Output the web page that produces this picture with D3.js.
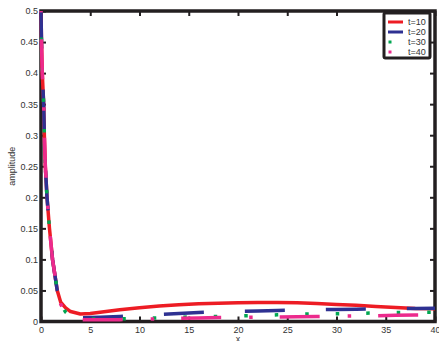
<!DOCTYPE html>
<html>
<head>
<meta charset="utf-8">
<script src="https://cdn.jsdelivr.net/npm/d3@7"></script>
<style>
  body { margin: 0; background: #fff; }
  svg { display: block; font-family: "Liberation Sans", Arial, sans-serif; }
</style>
</head>
<body>
<div class="chart"></div>
<script>
// sample positions along x
const xs = [0, 0.05, 0.13, 0.27, 0.34, 0.44, 0.61, 0.86, 1.17, 1.65, 2.0, 2.5, 3, 4, 5, 6, 8, 10, 12, 14, 16, 18, 20, 22, 24, 26, 28, 30, 32, 34, 36, 38, 40];

// amplitude for each t
const t10 = [0.5, 0.45, 0.40, 0.35, 0.30, 0.25, 0.20, 0.15, 0.10, 0.05, 0.031, 0.022, 0.016, 0.012, 0.013, 0.015, 0.019, 0.022, 0.025, 0.027, 0.0285, 0.0295, 0.030, 0.0305, 0.0305, 0.030, 0.029, 0.0275, 0.026, 0.024, 0.0225, 0.021, 0.0205];
const t20 = [0.5, 0.45, 0.40, 0.35, 0.30, 0.25, 0.20, 0.15, 0.10, 0.05, 0.032, 0.018, 0.010, 0.006, 0.0063, 0.0068, 0.0082, 0.0098, 0.0115, 0.013, 0.0145, 0.0155, 0.0163, 0.017, 0.0178, 0.0184, 0.019, 0.0195, 0.0199, 0.0203, 0.0207, 0.021, 0.0213];
const t30 = [0.5, 0.45, 0.40, 0.35, 0.30, 0.25, 0.20, 0.15, 0.10, 0.05, 0.028, 0.015, 0.009, 0.005, 0.004, 0.004, 0.0043, 0.005, 0.0058, 0.0068, 0.0075, 0.0082, 0.009, 0.0098, 0.0108, 0.0118, 0.0123, 0.0126, 0.013, 0.0138, 0.0145, 0.0149, 0.015];
const t40 = [0.5, 0.45, 0.40, 0.35, 0.30, 0.25, 0.20, 0.15, 0.10, 0.05, 0.028, 0.012, 0.006, 0.003, 0.0028, 0.0028, 0.003, 0.0035, 0.0042, 0.005, 0.0057, 0.0063, 0.0066, 0.007, 0.0074, 0.0078, 0.0082, 0.0085, 0.0088, 0.0094, 0.0099, 0.0103, 0.0106];

const seriesNames = ["t=10", "t=20", "t=30", "t=40"];

const xTicks = [0, 5, 10, 15, 20, 25, 30, 35, 40];
const xTickLabels = ["0", "5", "10", "15", "20", "25", "30", "35", "40"];
const yTicks = [0, 0.05, 0.1, 0.15, 0.2, 0.25, 0.3, 0.35, 0.4, 0.45, 0.5];
const yTickLabels = ["0", "0.05", "0.1", "0.15", "0.2", "0.25", "0.3", "0.35", "0.4", "0.45", "0.5"];

const width = 439, height = 341;
const mLeft = 41, mRight = 435, mTop = 11, mBottom = 321.5;
const ink = "#231f20";

const svg = d3.select(".chart").append("svg").attr("width", width).attr("height", height);

const xScale = d3.scaleLinear().domain([0, 40]).range([mLeft, mRight]);
const yScale = d3.scaleLinear().domain([0, 0.5]).range([mBottom, mTop]);

// axes (inward ticks)
function styleAxis(g) {
  g.select(".domain").remove();
  g.selectAll(".tick line").attr("stroke", ink).attr("stroke-width", 2);
  g.selectAll(".tick text").attr("fill", "#333").style("font-size", "9px");
}
svg.append("g").attr("transform", `translate(0,${mBottom})`)
  .call(d3.axisBottom(xScale).tickValues(xTicks).tickSize(-5).tickPadding(5)
    .tickFormat((d, i) => xTickLabels[i]))
  .call(styleAxis);
svg.append("g").attr("transform", `translate(0,${mTop})`)
  .call(d3.axisTop(xScale).tickValues(xTicks).tickSize(-5).tickFormat(""))
  .call(styleAxis);
svg.append("g").attr("transform", `translate(${mLeft},0)`)
  .call(d3.axisLeft(yScale).tickValues(yTicks).tickSize(-5).tickPadding(3)
    .tickFormat((d, i) => yTickLabels[i]))
  .call(styleAxis);
svg.append("g").attr("transform", `translate(${mRight},0)`)
  .call(d3.axisRight(yScale).tickValues(yTicks).tickSize(-5).tickFormat(""))
  .call(styleAxis);

// box
svg.append("rect")
  .attr("x", mLeft).attr("y", mTop)
  .attr("width", mRight - mLeft).attr("height", mBottom - mTop)
  .attr("fill", "none").attr("stroke", ink).attr("stroke-width", 3.5);

// axis titles
svg.append("text")
  .attr("transform", `translate(15,${(mTop + mBottom) / 2}) rotate(-90)`)
  .attr("text-anchor", "middle").attr("fill", "#333").style("font-size", "9px")
  .text("amplitude");
svg.append("text")
  .attr("x", (mLeft + mRight) / 2).attr("y", 342)
  .attr("text-anchor", "middle").attr("fill", "#333").style("font-size", "9px")
  .text("x");

const line = d3.line()
  .x((d, i) => xScale(xs[i]))
  .y(d => yScale(d));

// styles: solid, dashed, dotted, dash-dot
const styles = [
  { color: "#ed1c24", dash: null, period: 0, anchor: 0 },
  { color: "#2e3192", dash: "40,41", period: 81, anchor: 83 },
  { color: "#00a651", dash: "3.5,27", period: 30.5, anchor: 122.3 },
  { color: "#ec2a8c", dash: "40,28,3.5,27", period: 98.5, anchor: 82.7 }
];
const allSeries = [t10, t20, t30, t40];

// path length at which the curve first reaches pixel x = px
function lenAtX(node, px) {
  let lo = 0, hi = node.getTotalLength();
  for (let k = 0; k < 40; k++) {
    const mid = (lo + hi) / 2;
    if (node.getPointAtLength(mid).x < px) lo = mid; else hi = mid;
  }
  return lo;
}

allSeries.forEach((vals, i) => {
  const st = styles[i];
  const p = svg.append("path")
    .datum(vals)
    .attr("d", line)
    .attr("fill", "none")
    .attr("stroke", st.color)
    .attr("stroke-width", 3.5)
    .attr("stroke-linejoin", "round");
  if (st.dash) {
    const L = lenAtX(p.node(), st.anchor);
    const off = (st.period - (L % st.period)) % st.period;
    p.attr("stroke-dasharray", st.dash).attr("stroke-dashoffset", off);
  }
});

// legend
const lg = svg.append("g");
lg.append("rect")
  .attr("x", 384).attr("y", 13).attr("width", 46).attr("height", 45)
  .attr("rx", 1.5)
  .attr("fill", "#fff").attr("stroke", ink).attr("stroke-width", 3);
seriesNames.forEach((name, i) => {
  const cy = 22 + i * 10;
  if (i < 2) {
    lg.append("line").attr("x1", 388).attr("x2", 403).attr("y1", cy).attr("y2", cy)
      .attr("stroke", styles[i].color).attr("stroke-width", 3);
  } else {
    lg.append("rect").attr("x", 388.5).attr("y", cy - 1.5).attr("width", 3).attr("height", 3)
      .attr("fill", styles[i].color);
  }
  lg.append("text").attr("x", 408).attr("y", cy + 3.2)
    .attr("fill", "#333").style("font-size", "9px").text(name);
});
</script>
</body>
</html>
